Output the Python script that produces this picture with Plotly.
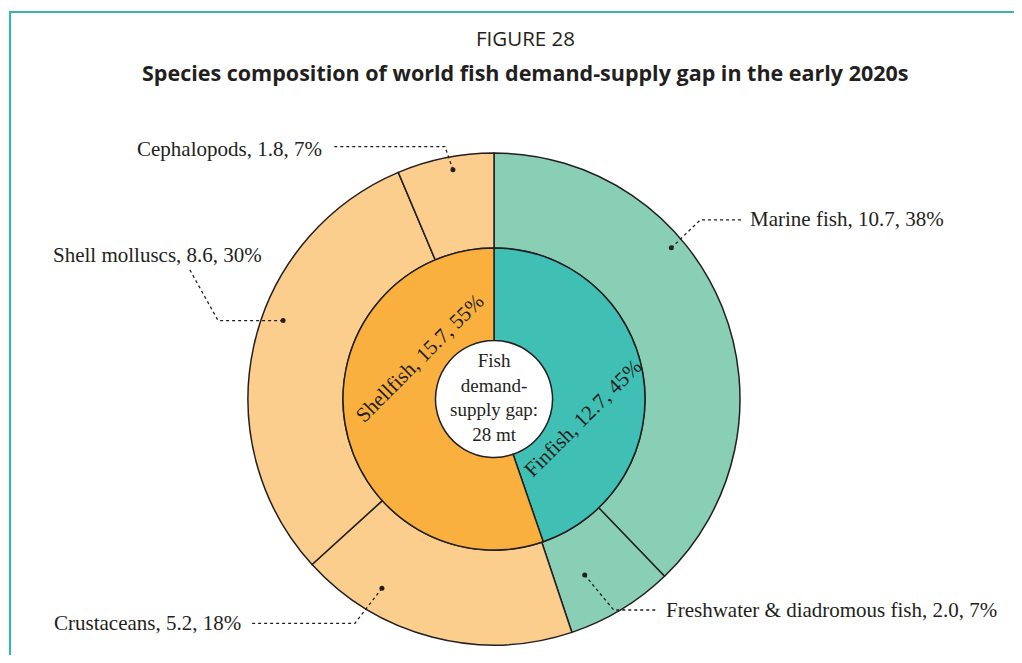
import math
import plotly.graph_objects as go

# data
inner_labels = ["Finfish", "Shellfish"]
inner_values = [12.7, 15.7]
inner_pct = [45, 55]

outer_labels = ["Marine fish", "Freshwater & diadromous fish", "Crustaceans",
                "Shell molluscs", "Cephalopods"]
outer_values = [10.7, 2.0, 5.2, 8.6, 1.8]
outer_pct = [38, 7, 18, 30, 7]

center_text = "Fish<br>demand-<br>supply gap:<br>28 mt"

# style
OFF = 8  # the page body adds an 8px margin
W, H = 1022 - OFF, 663 - 2 * OFF  # keep the page free of scrollbars
TEXT = "#231f20"
SERIF = "Liberation Serif"
SANS = "Open Sans"
INNER_COLORS = ["#40bfb4", "#f9b03f"]
OUTER_COLORS = ["#88cfb6", "#88cfb6", "#fcce8e", "#fcce8e", "#fcce8e"]
FRAME = "#3bb2aa"

CX, CY = 494, 399
R_OUT, R_IN, R_HOLE = 246, 151, 58.5


def px(x):
    return (x - OFF) / W


def py(y):
    return 1 - (y - OFF) / H


def polar(angle, r):
    a = math.radians(angle)
    return CX + r * math.sin(a), CY - r * math.cos(a)


fig = go.Figure()

fig.add_trace(go.Pie(
    labels=outer_labels, values=outer_values, sort=False, direction="clockwise",
    rotation=0, hole=R_IN / R_OUT, textinfo="none", hoverinfo="label+value",
    marker=dict(colors=OUTER_COLORS, line=dict(color=TEXT, width=1.5)),
    domain=dict(x=[px(CX - R_OUT), px(CX + R_OUT)], y=[py(CY + R_OUT), py(CY - R_OUT)]),
    showlegend=False,
))

fig.add_trace(go.Pie(
    labels=inner_labels, values=inner_values, sort=False, direction="clockwise",
    rotation=0, hole=R_HOLE / R_IN, textinfo="none", hoverinfo="label+value",
    marker=dict(colors=INNER_COLORS, line=dict(color=TEXT, width=1.5)),
    domain=dict(x=[px(CX - R_IN), px(CX + R_IN)], y=[py(CY + R_IN), py(CY - R_IN)]),
    showlegend=False,
))

annotations = []
shapes = []

# inner ring labels, set at -45 deg like the original
inner_pos = [(102, 91), (299, 85)]
for lab, val, pct, (ang, r) in zip(inner_labels, inner_values, inner_pct, inner_pos):
    x, y = polar(ang, r)
    annotations.append(dict(
        x=px(x), y=py(y), xref="paper", yref="paper", showarrow=False,
        xanchor="center", yanchor="middle",
        text=f"{lab}, {val}, {pct}%", textangle=-45,
        font=dict(family=SERIF, size=21, color=TEXT),
    ))

# outer labels with dotted leaders
total = sum(outer_values)
leaders = [
    dict(off=-18.5, r=233, elbow=(29, -28), end=(42, 0), lab=(6, -1), side="left"),
    dict(off=3.9, r=198, elbow=(29, 35), end=(43, 0), lab=(7, 0), side="left"),
    dict(off=16, r=220, elbow=(-27, 35), end=(-105, 0), lab=(-7, 0), side="right"),
    dict(off=8, r=225, elbow=(-65, 0), end=(-29, -52), lab=(75, -14), side="right"),
    dict(off=1.3, r=233, elbow=(-8, -23), end=(-112, 0), lab=(-9, 2), side="right"),
]
cum = 0
for lab, val, pct, ld in zip(outer_labels, outer_values, outer_pct, leaders):
    mid = (cum + val / 2) / total * 360
    cum += val
    dx, dy = polar(mid + ld["off"], ld["r"])
    ex, ey = dx + ld["elbow"][0], dy + ld["elbow"][1]
    fx, fy = ex + ld["end"][0], ey + ld["end"][1]
    lx, ly = fx + ld["lab"][0], fy + ld["lab"][1]
    shapes.append(dict(
        type="path", xref="paper", yref="paper",
        path=f"M{px(dx)},{py(dy)} L{px(ex)},{py(ey)} L{px(fx)},{py(fy)}",
        line=dict(color=TEXT, width=1.3, dash="dot"),
    ))
    shapes.append(dict(
        type="circle", xref="paper", yref="paper", fillcolor=TEXT,
        line=dict(width=0), x0=px(dx - 2.5), x1=px(dx + 2.5), y0=py(dy + 2.5), y1=py(dy - 2.5),
    ))
    annotations.append(dict(
        x=px(lx), y=py(ly), xref="paper", yref="paper", showarrow=False,
        xanchor=ld["side"], yanchor="middle",
        text=f"{lab}, {val}, {pct}%",
        font=dict(family=SERIF, size=21, color=TEXT),
    ))

# centre text
annotations.append(dict(
    x=px(CX), y=py(CY - 2), xref="paper", yref="paper", showarrow=False,
    xanchor="center", yanchor="middle",
    text=center_text, align="center",
    font=dict(family=SERIF, size=19, color=TEXT),
))

# titles
annotations.append(dict(
    x=px(525), y=py(38), xref="paper", yref="paper", showarrow=False,
    xanchor="center", yanchor="middle",
    text="FIGURE 28", font=dict(family=SANS, size=20.5, color=TEXT),
))
annotations.append(dict(
    x=px(525), y=py(73), xref="paper", yref="paper", showarrow=False,
    xanchor="center", yanchor="middle",
    text="<b>Species composition of world fish demand-supply gap in the early 2020s</b>",
    font=dict(family=SANS, size=21.5, color=TEXT),
))

# frame: only the left and top edges show in the original
shapes.append(dict(
    type="line", xref="paper", yref="paper", x0=px(10), x1=px(10), y0=py(720), y1=py(12),
    line=dict(color=FRAME, width=2.2),
))
shapes.append(dict(
    type="line", xref="paper", yref="paper", x0=px(9), x1=px(1040), y0=py(12), y1=py(12),
    line=dict(color=FRAME, width=2.2),
))

fig.update_layout(
    width=W, height=H,
    margin=dict(l=0, r=0, t=0, b=0),
    paper_bgcolor="white", plot_bgcolor="white",
    annotations=annotations, shapes=shapes,
)

fig.write_html("out.html")
